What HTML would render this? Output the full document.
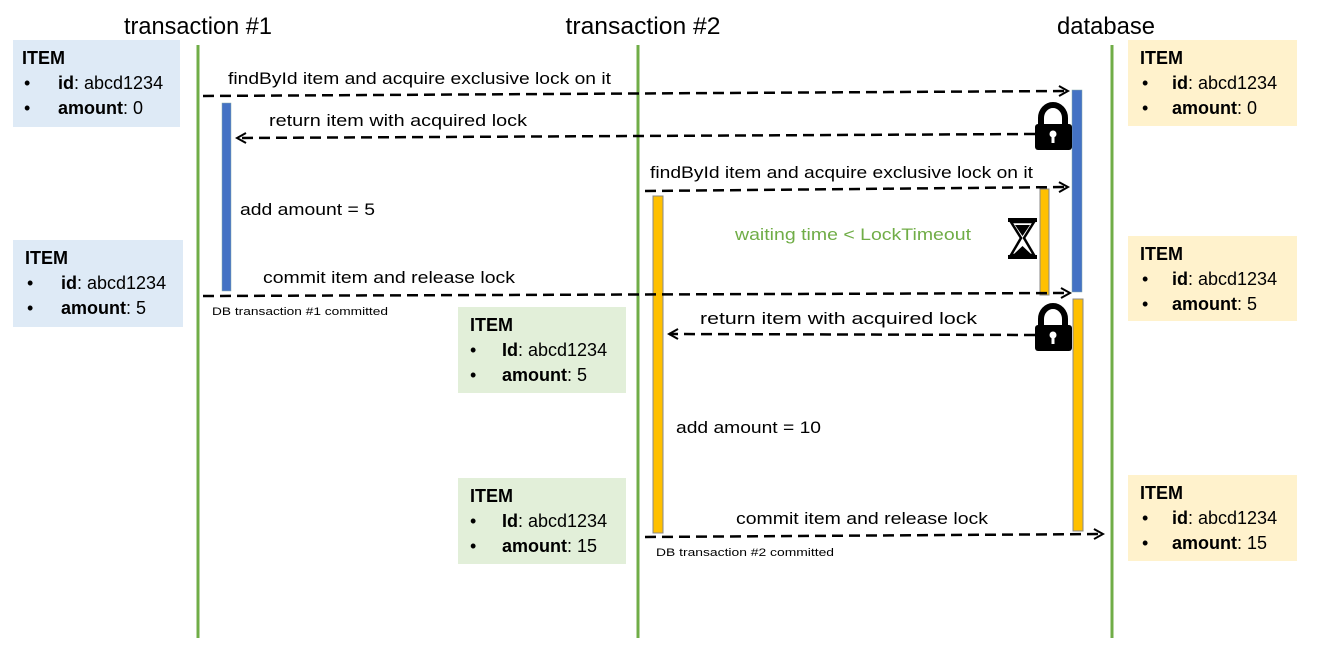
<!DOCTYPE html>
<html><head><meta charset="utf-8"><style>
body{margin:0;background:#fff}
svg{display:block;font-family:"Liberation Sans",sans-serif}
</style></head><body>
<svg width="1318" height="660" viewBox="0 0 1318 660" xmlns="http://www.w3.org/2000/svg">
<defs>
<marker id="ar" markerWidth="12" markerHeight="12" refX="10" refY="6" orient="auto" markerUnits="userSpaceOnUse">
<path d="M1,1 L10,6 L1,11" fill="none" stroke="#000" stroke-width="2"/></marker>
</defs>
<g font-size="24" fill="#000" text-anchor="middle">
<text x="198" y="34" textLength="148" lengthAdjust="spacingAndGlyphs">transaction #1</text>
<text x="643" y="34" textLength="155" lengthAdjust="spacingAndGlyphs">transaction #2</text>
<text x="1106" y="34" textLength="98" lengthAdjust="spacingAndGlyphs">database</text>
</g>
<g stroke="#70ad47" stroke-width="3">
<line x1="198" y1="45" x2="198" y2="638"/><line x1="638" y1="45" x2="638" y2="638"/><line x1="1112" y1="45" x2="1112" y2="638"/>
</g>
<g font-size="18">
<rect x="13" y="40" width="167" height="87" fill="#deeaf6"/>
<rect x="13" y="240" width="170" height="87" fill="#deeaf6"/>
<rect x="458" y="307" width="168" height="86" fill="#e2efd9"/>
<rect x="458" y="478" width="168" height="86" fill="#e2efd9"/>
<rect x="1128" y="40" width="169" height="86" fill="#fff2cc"/>
<rect x="1128" y="236" width="169" height="85" fill="#fff2cc"/>
<rect x="1128" y="475" width="169" height="86" fill="#fff2cc"/>
<g>
<text x="22" y="64" font-weight="bold">ITEM</text>
<text x="24" y="89">•</text><text x="58" y="89"><tspan font-weight="bold">id</tspan>: abcd1234</text>
<text x="24" y="114">•</text><text x="58" y="114"><tspan font-weight="bold">amount</tspan>: 0</text>
</g>
<g>
<text x="25" y="264" font-weight="bold">ITEM</text>
<text x="27" y="289">•</text><text x="61" y="289"><tspan font-weight="bold">id</tspan>: abcd1234</text>
<text x="27" y="314">•</text><text x="61" y="314"><tspan font-weight="bold">amount</tspan>: 5</text>
</g>
<g>
<text x="470" y="331" font-weight="bold">ITEM</text>
<text x="470" y="356">•</text><text x="502" y="356"><tspan font-weight="bold">Id</tspan>: abcd1234</text>
<text x="470" y="381">•</text><text x="502" y="381"><tspan font-weight="bold">amount</tspan>: 5</text>
</g>
<g>
<text x="470" y="502" font-weight="bold">ITEM</text>
<text x="470" y="527">•</text><text x="502" y="527"><tspan font-weight="bold">Id</tspan>: abcd1234</text>
<text x="470" y="552">•</text><text x="502" y="552"><tspan font-weight="bold">amount</tspan>: 15</text>
</g>
<g>
<text x="1140" y="64" font-weight="bold">ITEM</text>
<text x="1142" y="89">•</text><text x="1172" y="89"><tspan font-weight="bold">id</tspan>: abcd1234</text>
<text x="1142" y="114">•</text><text x="1172" y="114"><tspan font-weight="bold">amount</tspan>: 0</text>
</g>
<g>
<text x="1140" y="260" font-weight="bold">ITEM</text>
<text x="1142" y="285">•</text><text x="1172" y="285"><tspan font-weight="bold">id</tspan>: abcd1234</text>
<text x="1142" y="310">•</text><text x="1172" y="310"><tspan font-weight="bold">amount</tspan>: 5</text>
</g>
<g>
<text x="1140" y="499" font-weight="bold">ITEM</text>
<text x="1142" y="524">•</text><text x="1172" y="524"><tspan font-weight="bold">id</tspan>: abcd1234</text>
<text x="1142" y="549">•</text><text x="1172" y="549"><tspan font-weight="bold">amount</tspan>: 15</text>
</g>
</g>
<rect x="222" y="103" width="9" height="188" fill="#4472c4" stroke="#8aa" stroke-width="0.5"/>
<rect x="1072" y="90" width="10" height="202" fill="#4472c4" stroke="#8aa" stroke-width="0.5"/>
<rect x="653" y="196" width="10" height="337" fill="#ffc000" stroke="#888" stroke-width="1"/>
<rect x="1040" y="189" width="9" height="106" fill="#ffc000" stroke="#888" stroke-width="1"/>
<rect x="1073" y="299" width="10" height="232" fill="#ffc000" stroke="#888" stroke-width="1"/>
<g stroke="#000" stroke-width="2.5" stroke-dasharray="11,6" fill="none">
<line x1="203" y1="96" x2="1068" y2="91" marker-end="url(#ar)"/>
<line x1="1035" y1="134" x2="237" y2="138" marker-end="url(#ar)"/>
<line x1="645" y1="191" x2="1068" y2="187" marker-end="url(#ar)"/>
<line x1="203" y1="296" x2="1070" y2="293" marker-end="url(#ar)"/>
<line x1="1035" y1="335" x2="669" y2="334" marker-end="url(#ar)"/>
<line x1="645" y1="537" x2="1103" y2="534" marker-end="url(#ar)"/>
</g>
<g font-size="17">
<text x="228" y="84" textLength="383" lengthAdjust="spacingAndGlyphs">findById item and acquire exclusive lock on it</text>
<text x="269" y="126" textLength="258" lengthAdjust="spacingAndGlyphs">return item with acquired lock</text>
<text x="650" y="178" textLength="383" lengthAdjust="spacingAndGlyphs">findById item and acquire exclusive lock on it</text>
<text x="240" y="215" textLength="135" lengthAdjust="spacingAndGlyphs">add amount = 5</text>
<text x="735" y="240" fill="#70ad47" textLength="236" lengthAdjust="spacingAndGlyphs">waiting time &lt; LockTimeout</text>
<text x="263" y="283" textLength="252" lengthAdjust="spacingAndGlyphs">commit item and release lock</text>
<text x="700" y="324" textLength="277" lengthAdjust="spacingAndGlyphs">return item with acquired lock</text>
<text x="676" y="433" textLength="145" lengthAdjust="spacingAndGlyphs">add amount = 10</text>
<text x="736" y="524" textLength="252" lengthAdjust="spacingAndGlyphs">commit item and release lock</text>
</g>
<g font-size="11">
<text x="212" y="315" textLength="176" lengthAdjust="spacingAndGlyphs">DB transaction #1 committed</text>
<text x="656" y="556" textLength="178" lengthAdjust="spacingAndGlyphs">DB transaction #2 committed</text>
</g>
<g id="lk">
<path d="M1041,126 V118 A12,13 0 0 1 1065,118 V126" fill="none" stroke="#000" stroke-width="6"/>
<rect x="1035" y="124" width="37" height="26" rx="3" fill="#000"/>
<circle cx="1053" cy="134" r="3.5" fill="#fff"/><rect x="1051.5" y="134" width="3" height="9" fill="#fff"/>
</g>
<use href="#lk" transform="translate(0,201)"/>
<g>
<rect x="1008" y="218" width="29" height="4" fill="#000"/>
<rect x="1008" y="255" width="29" height="4" fill="#000"/>
<path d="M1011,222 L1034,222 L1024,238 L1034,255 L1011,255 L1021,238 Z" fill="#fff" stroke="#000" stroke-width="2.5"/>
<path d="M1015,225 L1030,225 L1022.5,236 Z" fill="#000"/>
<path d="M1014,254 L1022.5,246 L1031,254 Z" fill="#000"/>
</g>
</svg>
</body></html>
